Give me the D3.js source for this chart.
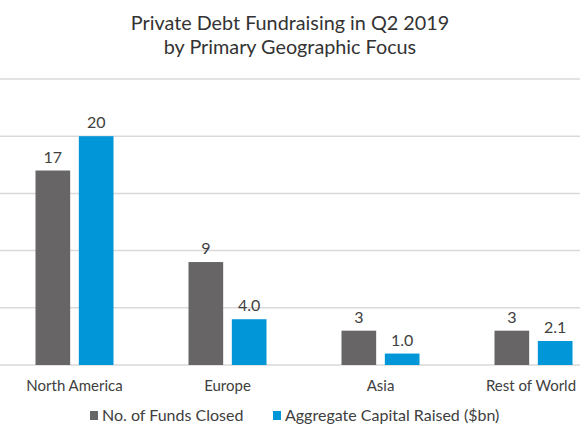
<!DOCTYPE html>
<html>
<head>
<meta charset="utf-8">
<script src="https://cdn.jsdelivr.net/npm/d3@7"></script>
<style>
  html, body { margin: 0; padding: 0; background: #fff; }
  svg { display: block; font-family: Lato, "Noto Sans", sans-serif; }
  .grid line { stroke: #d9d9d9; stroke-width: 1.5; }
  .value { fill: #404040; font-size: 16px; }
  .cat { fill: #404040; font-size: 15px; }
  .legend text { fill: #404040; font-size: 16px; }
</style>
</head>
<body>
<div id="chart"></div>
<script>
const regions = ["North America", "Europe", "Asia", "Rest of World"];
const fundsClosed = [17, 9, 3, 3];
const capitalRaised = [20, 4.0, 1.0, 2.1];
const seriesNames = ["No. of Funds Closed", "Aggregate Capital Raised ($bn)"];
const yTicks = [0, 5, 10, 15, 20, 25];

const width = 580;
const height = 435;
const colors = ["#676565", "#0096d8"];

const svg = d3.select("#chart")
  .append("svg")
  .attr("width", width)
  .attr("height", height);

// title
svg.append("text")
  .attr("x", 290)
  .attr("text-anchor", "middle")
  .attr("fill", "#333")
  .style("font-size", "19.8px")
  .selectAll("tspan")
  .data(["Private Debt Fundraising in Q2 2019", "by Primary Geographic Focus"])
  .enter()
  .append("tspan")
  .attr("x", 290)
  .attr("y", (_, i) => 30 + i * 24)
  .text(d => d);

const x0 = d3.scaleBand()
  .domain(regions)
  .range([-2, 610])
  .paddingInner(0)
  .paddingOuter(0);

const x1 = d3.scaleBand()
  .domain([0, 1])
  .range([37.5, x0.bandwidth() - 37.5])
  .paddingInner(0.2);

const y = d3.scaleLinear()
  .domain([0, 25])
  .range([365, 79]);

svg.append("g")
  .attr("class", "grid")
  .selectAll("line")
  .data(yTicks)
  .enter()
  .append("line")
  .attr("x1", 0)
  .attr("x2", width)
  .attr("y1", d => y(d))
  .attr("y2", d => y(d));

const rows = regions.map((r, i) => ({
  region: r,
  vals: [fundsClosed[i], capitalRaised[i]]
}));

const fmtBlue = v => v >= 10 ? d3.format("d")(v) : d3.format(".1f")(v);
const fmts = [d3.format("d"), fmtBlue];

const groups = svg.selectAll(".group")
  .data(rows)
  .enter()
  .append("g")
  .attr("transform", d => `translate(${x0(d.region)},0)`);

groups.selectAll("rect")
  .data(d => d.vals)
  .enter()
  .append("rect")
  .attr("x", (_, i) => x1(i))
  .attr("width", x1.bandwidth())
  .attr("y", d => y(d))
  .attr("height", d => y(0) - y(d))
  .attr("fill", (_, i) => colors[i]);

groups.selectAll(".value")
  .data(d => d.vals)
  .enter()
  .append("text")
  .attr("class", "value")
  .attr("x", (_, i) => x1(i) + x1.bandwidth() / 2)
  .attr("y", d => y(d) - 8)
  .attr("text-anchor", "middle")
  .text((d, i) => fmts[i](d));

// category labels, the last one kept inside the right edge
svg.selectAll(".cat")
  .data(regions)
  .enter()
  .append("text")
  .attr("class", "cat")
  .attr("x", d => Math.min(x0(d) + x0.bandwidth() / 2, 531))
  .attr("y", 391)
  .attr("text-anchor", "middle")
  .text(d => d);

// legend
const legendX = [90, 273];
const legend = svg.append("g").attr("class", "legend");
seriesNames.forEach((name, i) => {
  const g = legend.append("g").attr("transform", `translate(${legendX[i]}, 411)`);
  g.append("rect").attr("width", 8).attr("height", 9).attr("fill", colors[i]);
  g.append("text").attr("x", 12).attr("y", 9.5).text(name);
});
</script>
</body>
</html>
